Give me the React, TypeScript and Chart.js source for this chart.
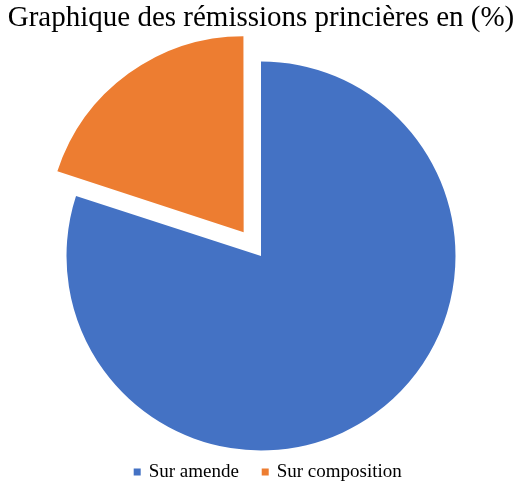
import React, { useEffect, useRef } from "react";
import { Chart, registerables } from "chart.js";

Chart.register(...registerables);

const categories: string[] = ["Sur amende", "Sur composition"];
const shares: number[] = [80, 20];
const sliceColors: string[] = ["#4472C4", "#ED7D31"];
// Chart.js divides an arc's offset by 4 when drawing, so 118 pulls the slice out ~30px
const sliceOffsets: number[] = [0, 118];
const chartTitle = "Graphique des rémissions princières en (%)";

const SERIF = "'Liberation Serif', 'Times New Roman', serif";

// Nudges the legend block after layout so it sits where it should under the pie
const legendNudge = {
  id: "legendNudge",
  afterLayout(chart: any) {
    const lg = chart.legend;
    if (!lg) return;
    const dx = 7.5;
    const dy = 2.5;
    lg.left += dx;
    lg.right += dx;
    lg.top += dy;
    lg.bottom += dy;
  },
};

export default function App() {
  const canvasRef = useRef<HTMLCanvasElement | null>(null);

  useEffect(() => {
    if (!canvasRef.current) return;
    const chart = new Chart(canvasRef.current, {
      type: "pie",
      data: {
        labels: categories,
        datasets: [
          {
            data: shares,
            backgroundColor: sliceColors,
            borderWidth: 0,
            offset: sliceOffsets,
            clip: false,
          },
        ],
      },
      plugins: [legendNudge],
      options: {
        animation: false,
        responsive: true,
        maintainAspectRatio: false,
        radius: 194.5,
        layout: { padding: { left: 3, right: 0, top: 0, bottom: 0 } },
        plugins: {
          title: {
            display: true,
            text: chartTitle,
            color: "#000000",
            font: { family: SERIF, size: 29, weight: "normal" },
            padding: { top: 1, bottom: 40.5 },
          },
          legend: {
            display: true,
            position: "bottom",
            labels: {
              color: "#000000",
              font: { family: SERIF, size: 19 },
              usePointStyle: true,
              pointStyle: "rect",
              boxWidth: 4,
              boxHeight: 7,
              padding: 24.3,
            },
          },
          tooltip: { enabled: false },
        },
      },
    });
    return () => chart.destroy();
  }, []);

  return (
    <div style={{ position: "absolute", left: 0, top: 0, width: 519, height: 489, background: "#ffffff" }}>
      <canvas ref={canvasRef} />
    </div>
  );
}
